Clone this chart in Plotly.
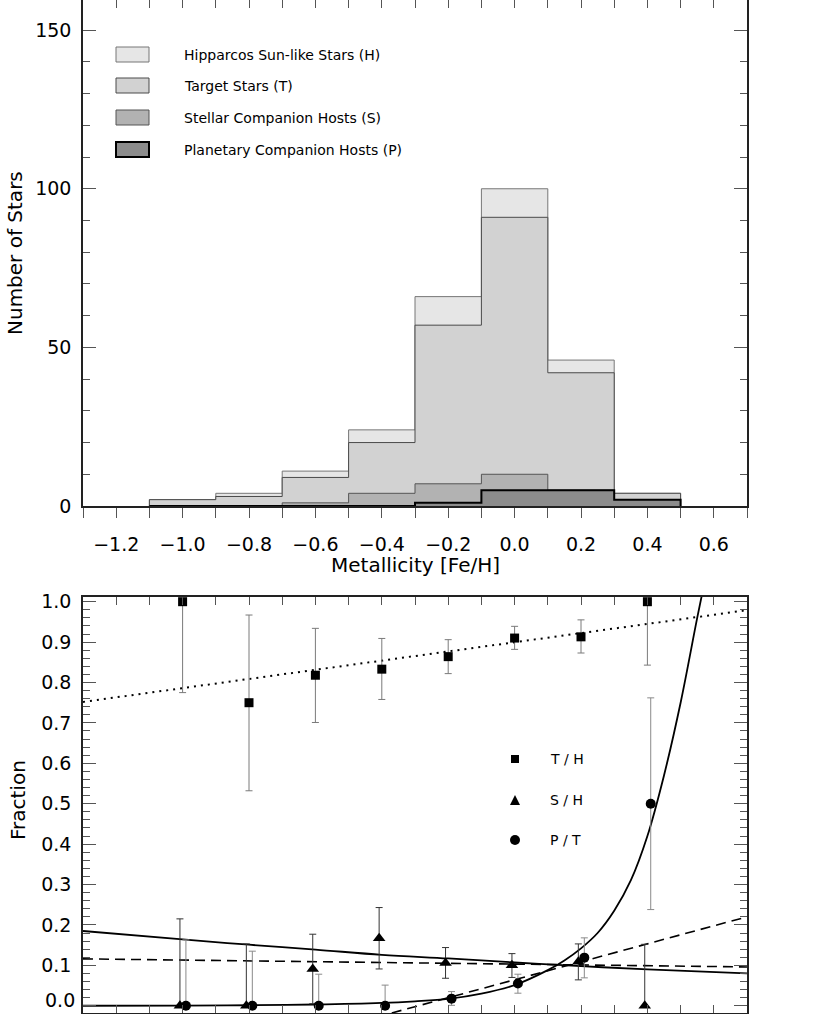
import plotly.graph_objects as go

W, H = 830, 1014

# histogram bins (centres) and counts per sample
bin_centers = [-1.0, -0.8, -0.6, -0.4, -0.2, 0.0, 0.2, 0.4]
hipparcos = [2, 4, 11, 24, 66, 100, 46, 4]
target = [2, 3, 9, 20, 57, 91, 42, 4]
stellar = [0, 0, 1, 4, 7, 10, 5, 0]
planet = [0, 0, 0, 0, 1, 5, 5, 2]

# fractions and error bar limits
th_frac = [1.0, 0.75, 0.818, 0.833, 0.864, 0.91, 0.913, 1.0]
th_hi = [1.0, 0.967, 0.934, 0.909, 0.906, 0.939, 0.955, 1.0]
th_lo = [0.775, 0.532, 0.701, 0.758, 0.822, 0.882, 0.873, 0.843]

sh_frac = [0.0, 0.0, 0.091, 0.167, 0.106, 0.100, 0.109, 0.0]
sh_hi = [0.215, 0.153, 0.177, 0.243, 0.144, 0.129, 0.153, 0.152]
sh_lo = [0.0, 0.0, 0.005, 0.091, 0.068, 0.070, 0.064, 0.0]

pt_frac = [0.0, 0.0, 0.0, 0.0, 0.0175, 0.055, 0.119, 0.5]
pt_hi = [0.163, 0.135, 0.078, 0.051, 0.035, 0.078, 0.168, 0.762]
pt_lo = [0.0, 0.0, 0.0, 0.0, 0.001, 0.031, 0.069, 0.238]

# fitted curves
th_fit_x = [-1.3, 0.7]
th_fit_y = [0.752, 0.979]

sh_flat_x = [-1.3, 0.7]
sh_flat_y = [0.116, 0.096]

sh_exp_x = [-1.3, -1.0, -0.8, -0.6, -0.4, -0.2, 0.0, 0.2, 0.4, 0.7]
sh_exp_y = [0.185, 0.164, 0.151, 0.139, 0.126, 0.117, 0.107, 0.098, 0.090, 0.080]

pt_lin_x = [-0.37, 0.7]
pt_lin_y = [-0.018, 0.220]

pt_exp_x = [-1.3, -1.0, -0.8, -0.6, -0.4, -0.3, -0.2, -0.1, 0.0, 0.1, 0.15,
            0.2, 0.25, 0.3, 0.35, 0.4, 0.45, 0.5, 0.55, 0.57]
pt_exp_y = [0.0, 0.0005, 0.0012, 0.003, 0.007, 0.011, 0.017, 0.030, 0.051, 0.088, 0.112,
            0.142, 0.180, 0.235, 0.31, 0.42, 0.57, 0.75, 0.96, 1.04]

frac_ticks = [0.0, 0.1, 0.2, 0.3, 0.4, 0.5, 0.6, 0.7, 0.8, 0.9, 1.0]
frac_labels = ["0.0", "0.1", "0.2", "0.3", "0.4", "0.5", "0.6", "0.7", "0.8", "0.9", "1.0"]

legend_hist = ["Hipparcos Sun-like Stars (H)", "Target Stars (T)",
               "Stellar Companion Hosts (S)", "Planetary Companion Hosts (P)"]
legend_frac = ["T / H", "S / H", "P / T"]

FONT = "DejaVu Sans"


def px_x(p):
    return p / W


def px_y(p):
    return 1 - p / H


def step_xy(centers, counts, half=0.1):
    xs, ys = [centers[0] - half], [0]
    for c, n in zip(centers, counts):
        xs.append(c - half)
        ys.append(n)
    xs += [centers[-1] + half, centers[-1] + half]
    ys += [counts[-1], 0]
    return xs, ys


fig = go.Figure()

hist_styles = [
    (hipparcos, "#e6e6e6", "#777777", 1),
    (target, "#d2d2d2", "#4a4a4a", 1),
    (stellar, "#b2b2b2", "#555555", 1),
    (planet, "#8c8c8c", "#000000", 2),
]
for counts, fill, line, lw in hist_styles:
    xs, ys = step_xy(bin_centers, counts)
    fig.add_trace(go.Scatter(
        x=xs, y=ys, mode="lines", line=dict(shape="hv", color=line, width=lw),
        fill="tozeroy", fillcolor=fill, xaxis="x", yaxis="y", showlegend=False
    ))

# dummy trace so the top tick axis of the histogram panel is drawn
fig.add_trace(go.Scatter(x=[], y=[], xaxis="x3", yaxis="y", showlegend=False))

# fit lines
fig.add_trace(go.Scatter(x=th_fit_x, y=th_fit_y, mode="lines",
                         line=dict(color="black", width=2, dash="2px,5px"),
                         xaxis="x2", yaxis="y2", showlegend=False))
fig.add_trace(go.Scatter(x=sh_flat_x, y=sh_flat_y, mode="lines",
                         line=dict(color="black", width=1.6, dash="10px,6px"),
                         xaxis="x2", yaxis="y2", showlegend=False))
fig.add_trace(go.Scatter(x=sh_exp_x, y=sh_exp_y, mode="lines",
                         line=dict(color="black", width=1.8, shape="spline"),
                         xaxis="x2", yaxis="y2", showlegend=False))
fig.add_trace(go.Scatter(x=pt_lin_x, y=pt_lin_y, mode="lines",
                         line=dict(color="black", width=1.6, dash="10px,6px"),
                         xaxis="x2", yaxis="y2", showlegend=False))
fig.add_trace(go.Scatter(x=pt_exp_x, y=pt_exp_y, mode="lines",
                         line=dict(color="black", width=1.8, shape="spline"),
                         xaxis="x2", yaxis="y2", showlegend=False))

# fraction points with error bars
frac_sets = [
    (th_frac, th_hi, th_lo, 0.0, "square", 9, "#7a7a7a"),
    (sh_frac, sh_hi, sh_lo, -0.008, "triangle-up", 11, "#333333"),
    (pt_frac, pt_hi, pt_lo, 0.01, "circle", 10, "#8a8a8a"),
]
for vals, hi, lo, dx, sym, size, ecol in frac_sets:
    fig.add_trace(go.Scatter(
        x=[c + dx for c in bin_centers], y=vals, mode="markers",
        marker=dict(symbol=sym, size=size, color="black"),
        error_y=dict(type="data", symmetric=False,
                     array=[h - v for h, v in zip(hi, vals)],
                     arrayminus=[v - l for v, l in zip(vals, lo)],
                     color=ecol, thickness=1, width=3.5),
        xaxis="x2", yaxis="y2", showlegend=False, cliponaxis=False
    ))

tick_font = dict(family=FONT, size=19, color="black")
line_style = dict(showline=True, linecolor="#222222", linewidth=1.5, automargin=False,
                  showgrid=False, zeroline=False, tickcolor="#555555", tickwidth=1)

# bottom label of the fraction axis sits on the page edge: drawn separately a bit higher
frac_ticktext = [""] + frac_labels[1:]

fig.update_layout(
    width=W, height=H, autosize=False,
    margin=dict(l=0, r=0, t=0, b=0, pad=0),
    paper_bgcolor="white", plot_bgcolor="white",
    xaxis=dict(domain=[px_x(83), px_x(747)], range=[-1.3, 0.7], anchor="y",
               tick0=0, dtick=0.2, tickformat=".1f", ticks="outside", ticklen=10,
               minor=dict(dtick=0.1, ticks="outside", ticklen=10, tickcolor="#555555"),
               tickfont=tick_font, ticklabelstandoff=10, mirror=False, **line_style),
    xaxis3=dict(range=[-1.3, 0.7], overlaying="x", anchor="y", side="top", automargin=False,
                tick0=0, dtick=0.1, ticks="inside", ticklen=8, tickcolor="#555555",
                showticklabels=False, showline=False, showgrid=False, zeroline=False),
    yaxis=dict(domain=[px_y(506), 1], range=[0, 159.5], tick0=0, dtick=50,
               ticks="inside", ticklen=13,
               minor=dict(dtick=10, ticks="inside", ticklen=7, tickcolor="#555555"),
               tickfont=tick_font, ticklabelstandoff=6, mirror="ticks", **line_style),
    xaxis2=dict(domain=[px_x(83), px_x(747)], range=[-1.3, 0.7], anchor="y2",
                tick0=0, dtick=0.1, ticks="inside", ticklen=8,
                showticklabels=False, mirror="ticks", **line_style),
    yaxis2=dict(domain=[px_y(1013), px_y(597)], range=[-0.018, 1.0116], anchor="x2",
                tickmode="array", tickvals=frac_ticks, ticktext=frac_ticktext,
                ticks="inside", ticklen=13,
                minor=dict(tick0=0, dtick=0.02, ticks="inside", ticklen=7, tickcolor="#555555"),
                tickfont=tick_font, ticklabelstandoff=6, mirror="ticks", **line_style),
)

fig.add_annotation(text=frac_labels[0], x=px_x(77), y=px_y(1013), xref="paper", yref="paper",
                   showarrow=False, font=tick_font, xanchor="right", yanchor="bottom")

# axis titles
title_font = dict(family=FONT, size=20, color="black")
fig.add_annotation(text="Metallicity [Fe/H]", x=px_x(415), y=px_y(565), xref="paper", yref="paper",
                   showarrow=False, font=title_font, xanchor="center", yanchor="middle")
fig.add_annotation(text="Number of Stars", x=px_x(15), y=px_y(253), xref="paper", yref="paper",
                   showarrow=False, font=title_font, textangle=-90, xanchor="center", yanchor="middle")
fig.add_annotation(text="Fraction", x=px_x(18), y=px_y(800), xref="paper", yref="paper",
                   showarrow=False, font=title_font, textangle=-90, xanchor="center", yanchor="middle")

# histogram legend
leg_font = dict(family=FONT, size=14, color="black")
box_tops = [47, 78, 110, 142]
for (counts, fill, line, lw), label, top in zip(hist_styles, legend_hist, box_tops):
    fig.add_shape(type="rect", xref="paper", yref="paper",
                  x0=px_x(116), x1=px_x(149), y0=px_y(top), y1=px_y(top + 15),
                  fillcolor=fill, line=dict(color=line, width=lw))
    fig.add_annotation(text=label, x=px_x(182), y=px_y(top + 8), xref="paper", yref="paper",
                       showarrow=False, font=leg_font, xanchor="left", yanchor="middle")

# fraction legend
sym_y = [759, 800, 840]
fig.add_shape(type="rect", xref="paper", yref="paper", x0=px_x(511), x1=px_x(519),
              y0=px_y(755), y1=px_y(763), fillcolor="black", line=dict(width=0))
fig.add_shape(type="path", xref="paper", yref="paper",
              path=f"M {px_x(510)},{px_y(805)} L {px_x(520)},{px_y(805)} L {px_x(515)},{px_y(795)} Z",
              fillcolor="black", line=dict(width=0))
fig.add_shape(type="circle", xref="paper", yref="paper", x0=px_x(510), x1=px_x(520),
              y0=px_y(835), y1=px_y(845), fillcolor="black", line=dict(width=0))
for label, yy in zip(legend_frac, sym_y):
    fig.add_annotation(text=label, x=px_x(548), y=px_y(yy), xref="paper", yref="paper",
                       showarrow=False, font=leg_font, xanchor="left", yanchor="middle")

fig.write_html("out.html", config={"displayModeBar": False},
               post_script="document.body.style.margin='0';")
